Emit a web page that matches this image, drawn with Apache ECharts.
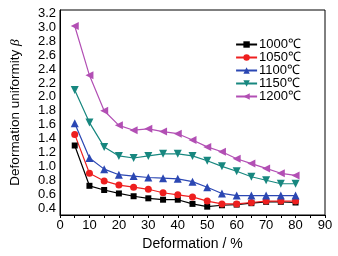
<!DOCTYPE html>
<html>
<head>
<meta charset="utf-8">
<script src="https://cdn.jsdelivr.net/npm/echarts@6/dist/echarts.min.js"></script>
<style>
html,body{margin:0;padding:0;background:#fff;}
#ct1{width:338px;height:256px;}
</style>
</head>
<body>
<div id="ct1"></div>
<script>
// deformation (%)
var deform = [5, 10, 15, 20, 25, 30, 35, 40, 45, 50, 55, 60, 65, 70, 75, 80];
var names = ['1000℃', '1050℃', '1100℃', '1150℃', '1200℃'];
var t1000 = [1.30, 0.72, 0.66, 0.61, 0.57, 0.54, 0.52, 0.52, 0.46, 0.42, 0.44, 0.45, 0.47, 0.49, 0.49, 0.48];
var t1050 = [1.46, 0.90, 0.79, 0.73, 0.70, 0.67, 0.62, 0.59, 0.56, 0.50, 0.46, 0.46, 0.48, 0.50, 0.50, 0.50];
var t1100 = [1.62, 1.12, 0.96, 0.88, 0.86, 0.84, 0.83, 0.82, 0.78, 0.70, 0.61, 0.58, 0.58, 0.58, 0.58, 0.58];
var t1150 = [2.10, 1.63, 1.28, 1.15, 1.12, 1.15, 1.18, 1.18, 1.15, 1.08, 1.00, 0.93, 0.85, 0.80, 0.75, 0.75];
var t1200 = [3.02, 2.31, 1.80, 1.59, 1.52, 1.54, 1.50, 1.47, 1.38, 1.28, 1.21, 1.11, 1.04, 0.97, 0.90, 0.87];
var yTicks = ['0.4', '0.6', '0.8', '1.0', '1.2', '1.4', '1.6', '1.8', '2.0', '2.2', '2.4', '2.6', '2.8', '3.0', '3.2'];

var colors = ['#000000', '#ee1f1f', '#2b47b3', '#17877f', '#b24fb4'];
var symbols = ['rect', 'circle', 'triangle', 'path://M0,0L10,0L5,9Z', 'path://M0,5L9,0L9,10Z'];
var sizes = [6, 7, 8, 8, 8];
var allData = [t1000, t1050, t1100, t1150, t1200];

function pairs(arr) {
	var out = [];
	for (var i = 0; i < arr.length; i++) {
		out.push([deform[i], arr[i]]);
	}
	return out;
}

var series = [];
for (var k = 0; k < names.length; k++) {
	series.push({
		name: names[k],
		type: 'line',
		data: pairs(allData[k]),
		symbol: symbols[k],
		symbolSize: sizes[k],
		showAllSymbol: true,
		itemStyle: {color: colors[k]},
		lineStyle: {color: colors[k], width: 1.2},
		animation: false
	});
}

var option1 = {
	backgroundColor: '#fff',
	textStyle: {fontFamily: 'Liberation Sans'},
	grid: {left: 55, right: 13, top: 10, bottom: 40, show: true, borderColor: '#000', borderWidth: 1},
	legend: {
		right: 37, top: 38, orient: 'vertical', itemGap: 0, padding: 0,
		itemWidth: 21, itemHeight: 8,
		textStyle: {fontSize: 13, lineHeight: 12.7, color: '#000', padding: [0, 0, 0, -3]},
		data: names
	},
	xAxis: {
		type: 'value', min: 0, max: 90, interval: 10,
		name: 'Deformation / %', nameLocation: 'middle', nameGap: 22,
		nameTextStyle: {fontSize: 14, color: '#000'},
		axisLine: {lineStyle: {color: '#000', width: 1}},
		axisTick: {show: true, length: 3, lineStyle: {color: '#000'}},
		minorTick: {show: true, splitNumber: 2, length: 3, lineStyle: {color: '#000'}},
		axisLabel: {fontSize: 13, color: '#000', margin: 4},
		splitLine: {show: false}
	},
	yAxis: {
		type: 'value', min: 0.3, max: 3.25, interval: 0.1,
		name: '{n|Deformation uniformity }{b|β}', nameLocation: 'middle', nameGap: 38,
		nameTextStyle: {
			fontSize: 13.5, color: '#000',
			rich: {
				n: {fontSize: 13.5, color: '#000', fontFamily: 'Liberation Sans'},
				b: {fontSize: 13.5, color: '#000', fontStyle: 'italic', fontFamily: 'Liberation Serif'}
			}
		},
		axisLine: {lineStyle: {color: '#000', width: 1}},
		axisTick: {show: false},
		axisLabel: {
			fontSize: 13, color: '#000', margin: 4,
			formatter: function(v) {
				var s = v.toFixed(1);
				return yTicks.indexOf(s) >= 0 && Math.abs(v * 10 - Math.round(v * 10)) < 0.01 ? s : '';
			}
		},
		splitLine: {show: false}
	},
	series: series
};

var myChart1 = echarts.init(document.getElementById('ct1'));
myChart1.setOption(option1, true);
</script>
</body>
</html>
